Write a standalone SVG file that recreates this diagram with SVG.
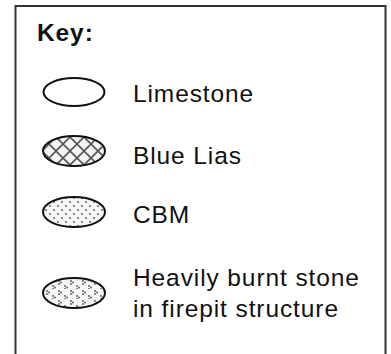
<svg xmlns="http://www.w3.org/2000/svg" width="391" height="354" viewBox="0 0 391 354">
<style>
.frame{fill:none;stroke:#333;stroke-width:2}
.t{font-family:"Liberation Sans",Arial,sans-serif;font-size:24.5px;fill:#111;letter-spacing:0.9px}
.b{font-weight:bold}
.sym{stroke:#111;stroke-width:2}
</style>
<defs>
<pattern id="hatch" patternUnits="userSpaceOnUse" width="14" height="14" x="42" y="137">
<rect width="14" height="14" fill="#f4f4f4"/>
<path d="M0,0 L14,14 M14,0 L0,14" stroke="#555" stroke-width="1.6"/>
</pattern>
<pattern id="dots" patternUnits="userSpaceOnUse" width="8" height="8" x="44" y="200">
<rect width="8" height="8" fill="#f6f6f6"/>
<circle cx="2" cy="2" r="1.1" fill="#777"/>
<circle cx="6" cy="6" r="1.1" fill="#777"/>
</pattern>
<pattern id="burnt" patternUnits="userSpaceOnUse" width="12" height="10" x="44" y="279">
<rect width="12" height="10" fill="#f6f6f6"/>
<g fill="#555">
<circle cx="3" cy="2" r="0.9"/><circle cx="5" cy="3.5" r="0.9"/><circle cx="3" cy="5" r="0.9"/>
<circle cx="9" cy="7" r="0.9"/><circle cx="11" cy="8.5" r="0.9"/><circle cx="9" cy="10" r="0.9"/>
</g>
</pattern>
</defs>
<path class="frame" d="M15.5,360 L15.5,6 L385.5,6 L385.5,360"/>
<text class="t b" x="37" y="40.5">Key:</text>
<g id="limestone">
<ellipse class="sym" cx="74" cy="92" rx="30.5" ry="14" fill="#fff"/>
<text class="t" x="133" y="101.5">Limestone</text>
</g>
<g id="blue-lias">
<ellipse class="sym" cx="74" cy="151" rx="31" ry="15" fill="url(#hatch)"/>
<text class="t" x="133" y="164">Blue Lias</text>
</g>
<g id="cbm">
<ellipse class="sym" cx="74" cy="212" rx="31" ry="15" fill="url(#dots)"/>
<text class="t" x="133" y="223">CBM</text>
</g>
<g id="burnt-stone">
<ellipse class="sym" cx="74" cy="293" rx="31" ry="15" fill="url(#burnt)"/>
<text class="t" x="133" y="286">Heavily burnt stone</text>
<text class="t" x="133" y="317">in firepit structure</text>
</g>
</svg>
